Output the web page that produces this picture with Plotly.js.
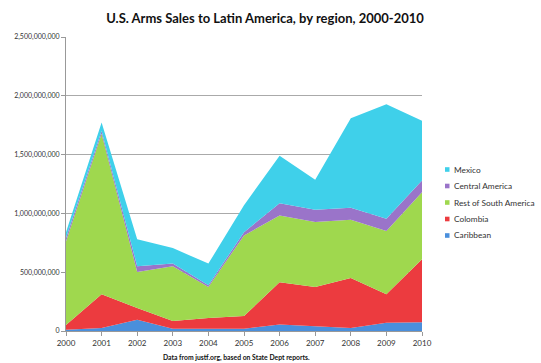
<!DOCTYPE html>
<html>
<head>
<meta charset="utf-8">
<script src="https://cdn.plot.ly/plotly-3.0.1.min.js"></script>
<style>html,body{margin:0;padding:0;background:#fff;}#chart{width:541px;height:363px;}</style>
</head>
<body>
<div id="chart"></div>
<script>
const years = [2000, 2001, 2002, 2003, 2004, 2005, 2006, 2007, 2008, 2009, 2010];
const caribbean = [10e6, 25e6, 95e6, 20e6, 20e6, 20e6, 55e6, 40e6, 25e6, 70e6, 75e6];
const colombia = [40e6, 288e6, 100e6, 65e6, 90e6, 107e6, 360e6, 335e6, 425e6, 243e6, 535e6];
const restSouthAmerica = [710e6, 1364e6, 307e6, 465e6, 265e6, 686e6, 567e6, 551e6, 496e6, 537e6, 570e6];
const centralAmerica = [30e6, 23e6, 48e6, 23e6, 15e6, 27e6, 105e6, 104e6, 102e6, 105e6, 99e6];
const mexico = [50e6, 73e6, 230e6, 132e6, 183e6, 230e6, 403e6, 257e6, 762e6, 973e6, 508e6];
const yTicks = [0, 500e6, 1000e6, 1500e6, 2000e6, 2500e6];

const series = [
  {name: 'Caribbean', y: caribbean, color: '#4a8fdc'},
  {name: 'Colombia', y: colombia, color: '#ec3b3f'},
  {name: 'Rest of South America', y: restSouthAmerica, color: '#9fd84e'},
  {name: 'Central America', y: centralAmerica, color: '#9a74c9'},
  {name: 'Mexico', y: mexico, color: '#3fd0ea'}
];

const traces = series.map(s => ({
  x: years, y: s.y, name: s.name, type: 'scatter', mode: 'lines',
  stackgroup: 'one', line: {width: 0, color: s.color}, fillcolor: s.color,
  hoverinfo: 'x+y+name', showlegend: false
}));

// Custom legend (top to bottom: Mexico ... Caribbean)
const W = 541, H = 363;
const legendRows = [169.5, 186, 202.5, 219, 235.5];
const shapes = [];
const annotations = [];
series.slice().reverse().forEach((s, i) => {
  const yc = legendRows[i];
  shapes.push({type: 'rect', xref: 'paper', yref: 'paper',
    x0: (445 - 66) / 356, x1: (449.5 - 66) / 356,
    y0: (331 - (yc + 2.3)) / 294, y1: (331 - (yc - 2.3)) / 294,
    fillcolor: s.color, line: {width: 0}});
  annotations.push({text: s.name, xref: 'paper', yref: 'paper',
    x: (452 - 66) / 356, y: (331 - yc) / 294, xanchor: 'left', yanchor: 'middle',
    showarrow: false, font: {size: 8.3, color: '#333'}});
});
annotations.push({text: '<b>Data from justf.org, based on State Dept reports.</b>',
  xref: 'paper', yref: 'paper', x: (236 - 66) / 356, y: -(357 - 331) / 294,
  xanchor: 'center', yanchor: 'middle', showarrow: false, font: {size: 6.8, color: '#111'}});

const layout = {
  width: W, height: H,
  margin: {l: 66, r: 119, t: 37, b: 32},
  paper_bgcolor: '#fff', plot_bgcolor: '#fff',
  font: {family: 'Lato, "Open Sans", sans-serif', color: '#333'},
  title: {text: 'U.S. Arms Sales to Latin America, by region, 2000-2010',
    font: {size: 13, color: '#111', family: 'Lato, "Open Sans", sans-serif', weight: 'bold'},
    x: 265 / W, xref: 'container', xanchor: 'center', y: 1 - 18 / H, yref: 'container', yanchor: 'middle'},
  xaxis: {range: [2000, 2010], tickvals: years, ticktext: years.map(String),
    showgrid: false, zeroline: false, showline: true, linecolor: '#999', linewidth: 1,
    ticks: 'outside', ticklen: 4, tickcolor: '#999', tickfont: {size: 8, color: '#333'}},
  yaxis: {range: [0, 2500e6], tickvals: yTicks, tickformat: ',d',
    showgrid: true, gridcolor: '#aaa', gridwidth: 1, zeroline: false,
    showline: true, linecolor: '#999', linewidth: 1,
    ticks: 'outside', ticklen: 4, tickcolor: '#999', tickfont: {size: 7, color: '#333'}},
  shapes: shapes,
  annotations: annotations,
  showlegend: false
};

Plotly.newPlot('chart', traces, layout, {displayModeBar: false, staticPlot: true});
</script>
</body>
</html>
